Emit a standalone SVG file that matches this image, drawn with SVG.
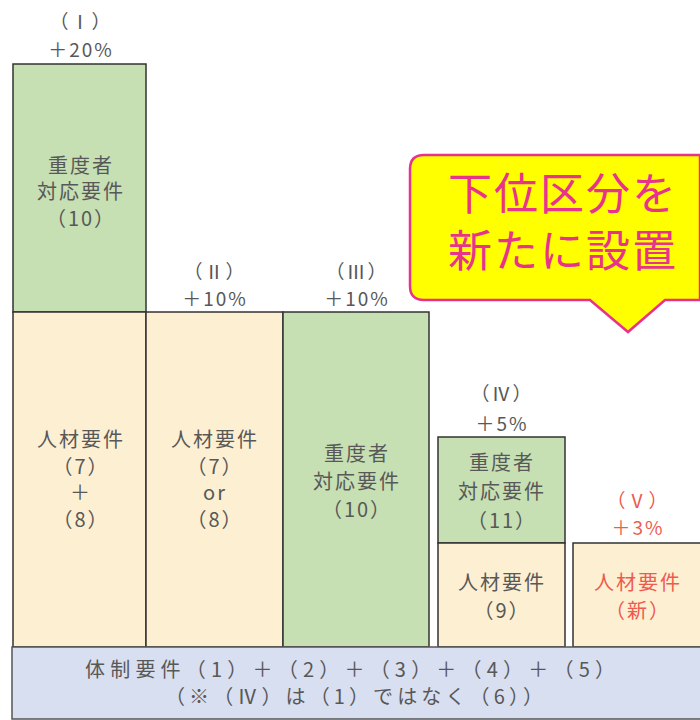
<svg xmlns="http://www.w3.org/2000/svg" width="700" height="720" viewBox="0 0 700 720">
<style>
text{font-family:"Noto Sans CJK JP","Noto Sans",sans-serif;font-size:20px;fill:#585858;text-anchor:middle;letter-spacing:2px}
.lb{font-size:19px}
.red{fill:#ee5a4f}
.g{fill:#c6dfb3;stroke:#333;stroke-width:1.5}
.y{fill:#fdefd2;stroke:#333;stroke-width:1.5}
.b{fill:#d8dff0;stroke:#555;stroke-width:1.5}
.call{font-size:44px;fill:#e8338c;letter-spacing:2px}
</style>
<rect width="700" height="720" fill="#fff"/>
<g id="col1">
<text class="lb" x="81" y="29">（Ⅰ）</text>
<text class="lb" x="81" y="57">＋20%</text>
<rect class="g" x="13" y="64" width="133" height="248"/>
<text x="81" y="173">重度者</text>
<text x="81" y="199">対応要件</text>
<text x="81" y="226">（10）</text>
<rect class="y" x="13" y="312" width="133" height="335"/>
<text x="81" y="447">人材要件</text>
<text x="81" y="474">（7）</text>
<text x="81" y="500">＋</text>
<text x="81" y="527">（8）</text>
</g>
<g id="col2">
<text class="lb" x="215" y="279">（Ⅱ）</text>
<text class="lb" x="215" y="306">＋10%</text>
<rect class="y" x="146" y="312" width="137" height="335"/>
<text x="215" y="447">人材要件</text>
<text x="215" y="474">（7）</text>
<text x="215" y="500">or</text>
<text x="215" y="527">（8）</text>
</g>
<g id="col3">
<text class="lb" x="357" y="279">（Ⅲ）</text>
<text class="lb" x="357" y="306">＋10%</text>
<rect class="g" x="283" y="312" width="146" height="335"/>
<text x="357" y="461">重度者</text>
<text x="357" y="489">対応要件</text>
<text x="357" y="517">（10）</text>
</g>
<g id="col4">
<text class="lb" x="502" y="401">（Ⅳ）</text>
<text class="lb" x="502" y="431">＋5%</text>
<rect class="g" x="438" y="437" width="127" height="106"/>
<text x="502" y="470">重度者</text>
<text x="502" y="499">対応要件</text>
<text x="502" y="528">（11）</text>
<rect class="y" x="438" y="543" width="127" height="104"/>
<text x="502" y="590">人材要件</text>
<text x="502" y="618">（9）</text>
</g>
<g id="col5">
<text class="lb red" x="638" y="508">（Ⅴ）</text>
<text class="lb red" x="638" y="535">＋3%</text>
<rect class="y" x="573" y="543" width="130" height="104"/>
<text class="red" x="638" y="590">人材要件</text>
<text class="red" x="638" y="618">（新）</text>
</g>
<g id="base">
<rect class="b" x="12" y="647" width="695" height="72"/>
<text x="351" y="677" textLength="532" lengthAdjust="spacing">体制要件（1）＋（2）＋（3）＋（4）＋（5）</text>
<text x="355" y="704" textLength="380" lengthAdjust="spacing">（※（Ⅳ）は（1）ではなく（6））</text>
</g>
<g id="callout">
<path d="M424,155 H700 V300 H665 L628,332 L590,300 H424 Q410,300 410,286 V169 Q410,155 424,155 Z" fill="#ffff00" stroke="#e8338c" stroke-width="2.5"/>
<text class="call" x="563" y="210">下位区分を</text>
<text class="call" x="563" y="267">新たに設置</text>
</g>
</svg>
